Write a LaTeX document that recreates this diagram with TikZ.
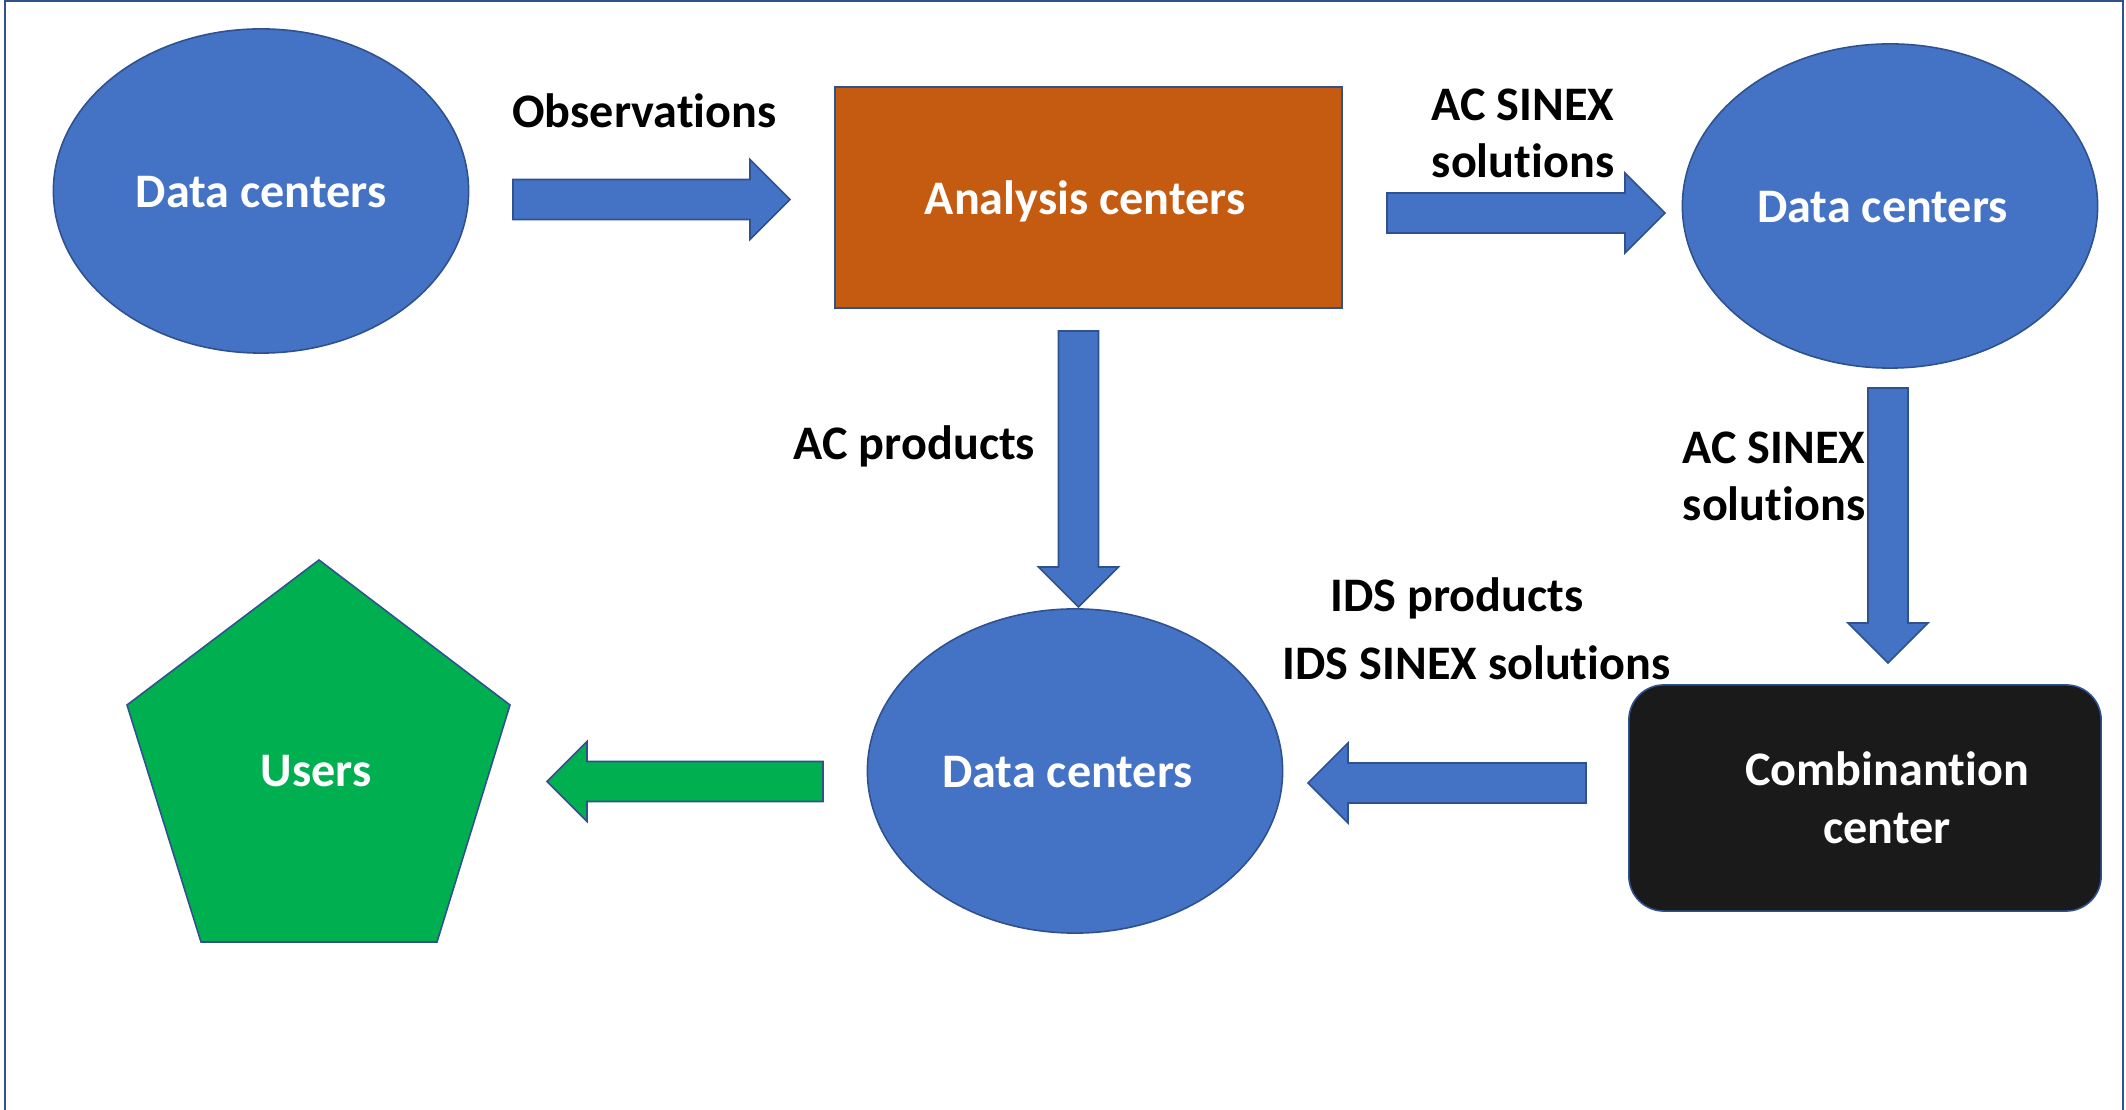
\documentclass[tikz,border=0pt]{standalone}
\usepackage{fontspec}
\setmainfont{Carlito}[Ligatures=NoCommon]
\usetikzlibrary{shapes.geometric,calc}
\definecolor{pblue}{HTML}{4472C4}
\definecolor{pline}{HTML}{2F528F}
\definecolor{porange}{HTML}{C55A11}
\definecolor{pgreen}{HTML}{00B050}
\definecolor{pblack}{HTML}{1A1A1A}
\newcommand\rarrow[3]{\draw[#1] ($(#2)+(0,-20)$) -- ($(#3)+(-40,-20)$) -- ($(#3)+(-40,-40)$) -- (#3) -- ($(#3)+(-40,40)$) -- ($(#3)+(-40,20)$) -- ($(#2)+(0,20)$) -- cycle;}
\newcommand\larrow[3]{\draw[#1] ($(#2)+(0,-20)$) -- ($(#3)+(40,-20)$) -- ($(#3)+(40,-40)$) -- (#3) -- ($(#3)+(40,40)$) -- ($(#3)+(40,20)$) -- ($(#2)+(0,20)$) -- cycle;}
\newcommand\darrow[3]{\draw[#1] ($(#2)+(-20,0)$) -- ($(#3)+(-20,-40)$) -- ($(#3)+(-40,-40)$) -- (#3) -- ($(#3)+(40,-40)$) -- ($(#3)+(20,-40)$) -- ($(#2)+(20,0)$) -- cycle;}
\begin{document}
\begin{tikzpicture}[x=0.01cm,y=-0.01cm,
  shapeline/.style={draw=pline, line width=0.45pt},
  wtext/.style={text=white, font=\fontsize{13.7pt}{16.5pt}\selectfont\bfseries, align=center},
  btext/.style={text=black, font=\fontsize{13.7pt}{16.2pt}\selectfont\bfseries, align=center, inner sep=0pt},
  fixh/.style={text height=0.33cm, text depth=0pt},
  dcell/.style={ellipse, shapeline, fill=pblue, wtext, fixh, minimum width=4.15cm, minimum height=3.24cm, inner sep=0pt},
  barrow/.style={shapeline, fill=pblue},
  garrow/.style={shapeline, fill=pgreen}]
\useasboundingbox (0,0) rectangle (2126,1110);
\fill[white] (0,0) rectangle (2126,1110);
\draw[pline, line width=0.6pt] (5,1120) -- (5,1) -- (2123,1) -- (2123,1120);

% shapes
\node[dcell] (dc1) at (261,191) {Data centers};
\node[dcell] (dc2) at (1890,206) {\hspace*{-0.15cm}Data centers};
\node[dcell] (dc3) at (1075,771) {\hspace*{-0.15cm}Data centers};
\node[rectangle, shapeline, fill=porange, wtext, fixh, minimum width=5.07cm, minimum height=2.21cm, inner sep=0pt] (ac) at (1088.5,197.5) {\hspace*{-0.07cm}Analysis centers};
\node[rectangle, rounded corners=0.35cm, shapeline, fill=pblack, minimum width=4.72cm, minimum height=2.26cm, inner sep=0pt,
  label={[wtext, inner sep=0pt, xshift=0.22cm]center:{Combinantion\\center}}] (cc) at (1865,798) {};
\coordinate (u1) at (319,560);
\coordinate (u2) at (510,705);
\coordinate (u3) at (437,942);
\coordinate (u4) at (201,942);
\coordinate (u5) at (127,705);
\draw[shapeline, fill=pgreen] (u1) -- (u2) -- (u3) -- (u4) -- (u5) -- cycle;
\node[wtext, fixh, inner sep=0pt] (users) at (316,770) {Users};

% arrows
\coordinate (o1) at (513,199.5);  \coordinate (o2) at (790,199.5);
\coordinate (s1) at (1387,213);   \coordinate (s2) at (1665,213);
\coordinate (p1) at (1078.5,331); \coordinate (p2) at (1078.5,607);
\coordinate (q1) at (1888,388);   \coordinate (q2) at (1888,663);
\coordinate (r1) at (1586,783);   \coordinate (r2) at (1308,783);
\coordinate (g1) at (823,781.5);  \coordinate (g2) at (547,781.5);
\rarrow{barrow}{o1}{o2}
\rarrow{barrow}{s1}{s2}
\darrow{barrow}{p1}{p2}
\darrow{barrow}{q1}{q2}
\larrow{barrow}{r1}{r2}
\larrow{garrow}{g1}{g2}

% labels
\node[btext, anchor=base] (lobs) at (644.5,128) {Observations};
\node[btext] (lsinex1) at (1523,133) {AC SINEX\\solutions};
\node[btext, anchor=base] (lacp) at (914.5,460) {AC products};
\node[btext] (lsinex2) at (1774,476) {AC SINEX\\solutions};
\node[btext, anchor=base] (lidsp) at (1457,612) {IDS products};
\node[btext, anchor=base] (lidss) at (1476.5,680) {IDS SINEX solutions};
\end{tikzpicture}
\end{document}
